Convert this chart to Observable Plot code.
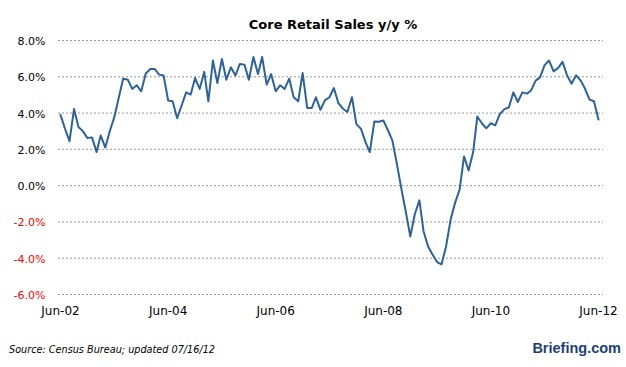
<!DOCTYPE html>
<html>
<head>
<meta charset="utf-8">
<script src="https://cdn.jsdelivr.net/npm/d3@7"></script>
<script src="https://cdn.jsdelivr.net/npm/@observablehq/plot@0.6"></script>
<style>
  html, body { margin: 0; padding: 0; background: #fff; }
  #chart { width: 626px; height: 367px; }
</style>
</head>
<body>
<div id="chart"></div>
<script>
// Monthly series, Jun 2002 .. Jun 2012 (y/y %)
const startYear = 2002;
const startMonth = 5; // June (0-based)
const values = [
  3.90, 3.15, 2.45, 4.22, 3.23, 2.99, 2.62, 2.66, 1.85, 2.77, 2.10, 2.99,
  3.76, 4.83, 5.90, 5.84, 5.33, 5.53, 5.20, 6.18, 6.43, 6.43, 6.12, 6.07,
  4.69, 4.65, 3.72, 4.43, 5.14, 5.02, 5.93, 5.33, 6.27, 4.65, 6.90, 5.66,
  6.98, 5.84, 6.52, 6.07, 6.71, 6.67, 5.84, 7.09, 6.15, 7.09, 5.57, 6.15,
  5.20, 5.53, 5.33, 5.90, 4.87, 4.65, 6.21, 4.28, 4.28, 4.87, 4.18, 4.70,
  4.87, 5.38, 4.55, 4.24, 4.06, 4.87, 3.39, 3.14, 2.40, 1.85, 3.54, 3.52,
  3.59, 3.08, 2.50, 1.20, -0.15, -1.45, -2.80, -1.56, -0.81, -2.51, -3.35, -3.79,
  -4.21, -4.34, -3.35, -1.87, -0.95, -0.22, 1.61, 0.84, 1.85, 3.81, 3.44, 3.16,
  3.44, 3.32, 3.94, 4.22, 4.31, 5.14, 4.61, 5.14, 5.07, 5.24, 5.79, 5.97,
  6.64, 6.90, 6.30, 6.49, 6.82, 6.07, 5.62, 6.08, 5.79, 5.35, 4.74, 4.65,
  3.64
];
const yTicks = [-6, -4, -2, 0, 2, 4, 6, 8];
const xTickYears = [2002, 2004, 2006, 2008, 2010, 2012];
const titleText = "Core Retail Sales y/y %";
const sourceText = "Source: Census Bureau; updated 07/16/12";
const brandText = "Briefing.com";

const data = values.map((v, i) => ({
  date: new Date(Date.UTC(startYear, startMonth + i, 1)),
  value: v
}));
const xTicks = xTickYears.map(y => new Date(Date.UTC(y, startMonth, 1)));

const chart = Plot.plot({
  width: 626,
  height: 367,
  marginTop: 40,
  marginBottom: 73,
  marginLeft: 60,
  marginRight: 28,
  style: { fontFamily: "DejaVu Sans", background: "#fff", overflow: "visible" },
  x: { type: "utc", domain: [xTicks[0], xTicks[xTicks.length - 1]] },
  y: { domain: [-6, 8] },
  marks: [
    Plot.ruleY(yTicks, { stroke: "#9a9a9a", strokeWidth: 1, strokeDasharray: "2,2", insetLeft: -2, insetRight: -5 }),
    Plot.axisY({
      ticks: yTicks, tickSize: 0, tickPadding: 15, label: null, fontSize: 11, dy: 1,
      tickFormat: d => d.toFixed(1) + "%",
      fill: d => (d < 0 ? "#ff0000" : "#000000")
    }),
    Plot.axisX({
      ticks: xTicks, tickSize: 0, tickPadding: 12, label: null, fontSize: 12,
      tickFormat: d3.utcFormat("%b-%y"), fill: "#000"
    }),
    Plot.lineY(data, { x: "date", y: "value", stroke: "#2e6398", strokeWidth: 2 })
  ]
});

document.getElementById("chart").appendChild(chart);

const svg = d3.select(chart);
svg.append("text")
  .attr("x", 333).attr("y", 28.5)
  .attr("text-anchor", "middle")
  .attr("font-family", "DejaVu Sans").attr("font-weight", "bold").attr("font-size", 13)
  .attr("fill", "#000")
  .text(titleText);
svg.append("text")
  .attr("x", 9).attr("y", 352.5)
  .attr("text-anchor", "start")
  .attr("font-family", "DejaVu Sans").attr("font-style", "italic").attr("font-size", 10)
  .attr("textLength", 206).attr("lengthAdjust", "spacingAndGlyphs")
  .attr("fill", "#000")
  .text(sourceText);
svg.append("text")
  .attr("x", 621).attr("y", 353)
  .attr("text-anchor", "end")
  .attr("font-family", "Liberation Sans").attr("font-weight", "bold").attr("font-size", 14.5)
  .attr("fill", "#1d3f74")
  .text(brandText);
</script>
</body>
</html>
